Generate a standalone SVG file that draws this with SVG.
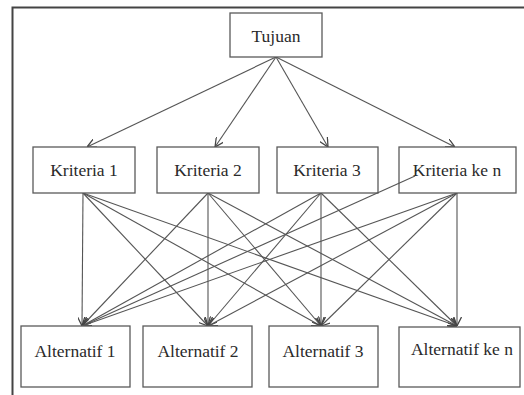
<svg xmlns="http://www.w3.org/2000/svg" width="524" height="395" viewBox="0 0 524 395">
<style>
.box{fill:#fff;stroke:#5a5a5a;stroke-width:1.3}
.lbl{font-family:"Liberation Serif","Times New Roman",serif;font-size:17.5px;fill:#2a2a2a;text-anchor:middle}
.con line{stroke:#555;stroke-width:1.1;fill:none}
.arr{marker-end:url(#ah)}
</style>
<defs>
<marker id="ah" viewBox="0 0 10 10" refX="10" refY="5" markerWidth="9" markerHeight="9" markerUnits="userSpaceOnUse" orient="auto">
<path d="M0,0 L10,5 L0,10" fill="none" stroke="#444" stroke-width="1.4"/>
</marker>
</defs>
<rect width="524" height="395" fill="#fff"/>
<path d="M12.5,395 V7.5 H524" fill="none" stroke="#444" stroke-width="2"/>
<g class="con">
<line class="arr" x1="276" y1="57" x2="87" y2="147"/>
<line class="arr" x1="276" y1="57" x2="215" y2="147"/>
<line class="arr" x1="276" y1="57" x2="328" y2="147"/>
<line class="arr" x1="276" y1="57" x2="455" y2="147"/>
<line class="arr" x1="83" y1="193" x2="82" y2="326"/>
<line class="arr" x1="83" y1="193" x2="208" y2="326"/>
<line class="arr" x1="83" y1="193" x2="321" y2="326"/>
<line class="arr" x1="83" y1="193" x2="457" y2="326"/>
<line class="arr" x1="208" y1="193" x2="82" y2="326"/>
<line class="arr" x1="208" y1="193" x2="208" y2="326"/>
<line class="arr" x1="208" y1="193" x2="321" y2="326"/>
<line class="arr" x1="208" y1="193" x2="457" y2="326"/>
<line class="arr" x1="321" y1="193" x2="82" y2="326"/>
<line class="arr" x1="321" y1="193" x2="208" y2="326"/>
<line class="arr" x1="321" y1="193" x2="321" y2="326"/>
<line class="arr" x1="321" y1="193" x2="457" y2="326"/>
<line class="arr" x1="457" y1="193" x2="82" y2="326"/>
<line class="arr" x1="457" y1="193" x2="208" y2="326"/>
<line class="arr" x1="457" y1="193" x2="321" y2="326"/>
<line class="arr" x1="457" y1="193" x2="457" y2="326"/>
</g>
<g id="tujuan"><rect class="box" x="230" y="13" width="92" height="44"/><text class="lbl" x="276" y="42">Tujuan</text></g>
<g id="kriteria1"><rect class="box" x="33" y="147" width="102" height="46"/><text class="lbl" x="84" y="176">Kriteria 1</text></g>
<g id="kriteria2"><rect class="box" x="157" y="147" width="102" height="46"/><text class="lbl" x="208" y="176">Kriteria 2</text></g>
<g id="kriteria3"><rect class="box" x="277" y="147" width="101" height="46"/><text class="lbl" x="327" y="176">Kriteria 3</text></g>
<g id="kriteriaken"><rect class="box" x="399" y="147" width="117" height="46"/><text class="lbl" x="457" y="176">Kriteria ke n</text></g>
<g class="con"><line x1="82" y1="326" x2="415" y2="176"/></g>
<g id="alternatif1"><rect class="box" x="21" y="326" width="109" height="61"/><text class="lbl" x="75" y="357">Alternatif 1</text></g>
<g id="alternatif2"><rect class="box" x="143" y="326" width="109" height="61"/><text class="lbl" x="198" y="357">Alternatif 2</text></g>
<g id="alternatif3"><rect class="box" x="269" y="326" width="109" height="61"/><text class="lbl" x="323" y="357">Alternatif 3</text></g>
<g id="alternatifken"><rect class="box" x="399" y="327" width="121" height="60"/><text class="lbl" x="462" y="355">Alternatif ke n</text></g>
</svg>
